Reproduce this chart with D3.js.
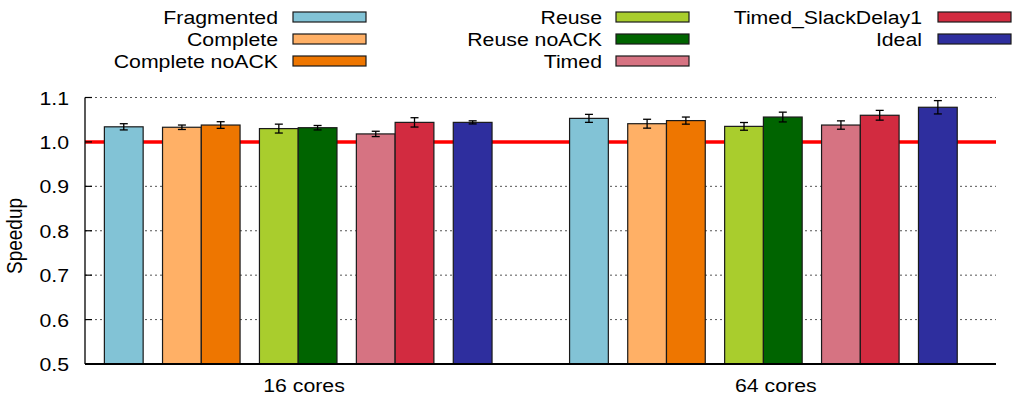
<!DOCTYPE html>
<html>
<head>
<meta charset="utf-8">
<script src="https://cdn.jsdelivr.net/npm/d3@7"></script>
<style>
  body { margin: 0; background: #fff; }
  text { font-family: "Liberation Sans", Arial, sans-serif; fill: #000; }
</style>
</head>
<body>
<svg id="chart" width="1013" height="400"></svg>
<script>
// groups and series
const groups = ["16 cores", "64 cores"];
const groupLabelPos = [5.65, 17.82];
const series = ["Fragmented", "Complete", "Complete noACK", "Reuse", "Reuse noACK", "Timed", "Timed_SlackDelay1", "Ideal"];
const colors = ["#82c3d6", "#ffb066", "#ee7600", "#a9cd2d", "#006400", "#d67382", "#d22b40", "#2e2e9e"];
// bar start offset inside a group (in bar widths)
const slots = [0.5, 2.0, 3.0, 4.5, 5.5, 7.0, 8.0, 9.5];
const groupStep = 12;

const values16 = [1.034, 1.033, 1.038, 1.030, 1.032, 1.018, 1.044, 1.044];
const errors16 = [0.007, 0.005, 0.0075, 0.010, 0.005, 0.006, 0.0105, 0.0035];
const values64 = [1.053, 1.041, 1.048, 1.035, 1.056, 1.038, 1.060, 1.078];
const errors64 = [0.009, 0.010, 0.008, 0.0087, 0.011, 0.0094, 0.011, 0.015];

const yTicks = [0.5, 0.6, 0.7, 0.8, 0.9, 1.0, 1.1];

const svg = d3.select("#chart");
const plotL = 85, plotR = 996, plotT = 97.5, plotB = 364;
const sx = 1.12; // text is drawn a bit wide in the original

const x = d3.scaleLinear().domain([0, 23.5]).range([plotL, plotR]);
const y = d3.scaleLinear().domain([0.5, 1.1]).range([plotB, plotT]);
const bw = x(1) - x(0);

function label(g, tx, ty, str, anchor, size) {
  return g.append("text")
    .attr("transform", `translate(${tx},${ty}) scale(${sx},1)`)
    .attr("text-anchor", anchor)
    .style("font-size", size + "px")
    .text(str);
}

// gridlines
svg.append("g")
  .selectAll("line")
  .data(yTicks.filter(t => t > 0.5 && t !== 1.0))
  .enter()
  .append("line")
  .attr("x1", plotL).attr("x2", plotR)
  .attr("y1", d => y(d)).attr("y2", d => y(d))
  .attr("stroke", "#555")
  .attr("stroke-width", 1)
  .attr("stroke-dasharray", "2,3");

// reference line at 1.0
svg.append("line")
  .attr("x1", plotL).attr("x2", plotR)
  .attr("y1", y(1.0)).attr("y2", y(1.0))
  .attr("stroke", "#ff0000")
  .attr("stroke-width", 3.5);

// bars
const data = [];
groups.forEach((g, gi) => {
  const vals = gi === 0 ? values16 : values64;
  const errs = gi === 0 ? errors16 : errors64;
  series.forEach((s, si) => {
    data.push({ g: gi, s: si, v: vals[si], e: errs[si], x0: gi * groupStep + slots[si] });
  });
});

svg.append("g")
  .selectAll("rect")
  .data(data)
  .enter()
  .append("rect")
  .attr("x", d => x(d.x0))
  .attr("y", d => y(d.v))
  .attr("width", bw)
  .attr("height", d => y(0.5) - y(d.v))
  .attr("fill", d => colors[d.s])
  .attr("stroke", "#1a1a1a")
  .attr("stroke-width", 1.2);

// error bars
const eb = svg.append("g").attr("stroke", "#000").attr("stroke-width", 1.3);
data.forEach(d => {
  const cx = x(d.x0 + 0.5);
  eb.append("line").attr("x1", cx).attr("x2", cx).attr("y1", y(d.v - d.e)).attr("y2", y(d.v + d.e));
  eb.append("line").attr("x1", cx - 4).attr("x2", cx + 4).attr("y1", y(d.v - d.e)).attr("y2", y(d.v - d.e));
  eb.append("line").attr("x1", cx - 4).attr("x2", cx + 4).attr("y1", y(d.v + d.e)).attr("y2", y(d.v + d.e));
});

// axes
svg.append("line")
  .attr("x1", plotL).attr("x2", plotL).attr("y1", plotT).attr("y2", plotB)
  .attr("stroke", "#000").attr("stroke-width", 1.3);
svg.append("line")
  .attr("x1", plotL).attr("x2", plotR).attr("y1", plotB).attr("y2", plotB)
  .attr("stroke", "#000").attr("stroke-width", 2);

const yAxis = svg.append("g");
yTicks.forEach(t => {
  yAxis.append("line")
    .attr("x1", plotL).attr("x2", plotL + 7)
    .attr("y1", y(t)).attr("y2", y(t))
    .attr("stroke", "#000").attr("stroke-width", 1.2);
  label(yAxis, plotL - 16, y(t) + 7, d3.format(".1f")(t), "end", 19);
});

// x labels
groups.forEach((g, gi) => {
  label(svg, x(groupLabelPos[gi]), 392, g, "middle", 19);
});

// y title
svg.append("text")
  .attr("transform", `translate(22,236) rotate(-90) scale(1,${sx})`)
  .attr("text-anchor", "middle")
  .style("font-size", "19px")
  .text("Speedup");

// legend, 3 columns
const legCols = [
  { textX: 278, swX: 293, items: [0, 1, 2] },
  { textX: 602, swX: 616, items: [3, 4, 5] },
  { textX: 922, swX: 938, items: [6, 7] }
];
const legend = svg.append("g");
legCols.forEach(c => {
  c.items.forEach((si, ri) => {
    const cy = 17 + ri * 22;
    label(legend, c.textX, cy + 7, series[si], "end", 19);
    legend.append("rect")
      .attr("x", c.swX).attr("y", cy - 5)
      .attr("width", 73).attr("height", 10)
      .attr("fill", colors[si])
      .attr("stroke", "#1a1a1a").attr("stroke-width", 1.2);
  });
});
</script>
</body>
</html>
